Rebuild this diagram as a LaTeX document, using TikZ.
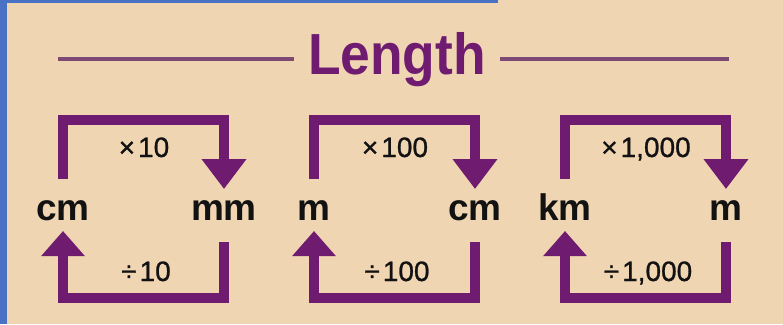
\documentclass[tikz,border=0pt]{standalone}
\usepackage{fontspec}
\usepackage{graphicx}
\setmainfont{Liberation Sans}
\newfontfamily\opfont{Liberation Sans}[FakeBold=0.9]
\usetikzlibrary{arrows.meta}
\definecolor{paper}{HTML}{F0D5B3}
\definecolor{plum}{HTML}{6E1B70}
\definecolor{ink}{HTML}{121212}
\definecolor{edge}{HTML}{4A72C4}
\definecolor{rulecol}{HTML}{7C4A74}
\begin{document}
\begin{tikzpicture}[x=1pt,y=-1pt,
  unit/.style={font=\fontsize{37}{40}\selectfont\bfseries, text=ink, inner sep=0pt, anchor=base},
  op/.style={font=\opfont\fontsize{28}{30}\selectfont, text=ink, inner sep=0pt, anchor=base},
  bar/.style={draw=plum, line width=10pt},
  rule/.style={draw=rulecol, line width=3.5pt}]
% background and screenshot edge
\useasboundingbox (0,0) rectangle (783,324);
\fill[paper] (0,0) rectangle (783,324);
\fill[edge] (0,0) rectangle (7,324);
\fill[edge] (0,0) rectangle (498,2.5);
% title
\node[text=plum, font=\fontsize{58}{60}\selectfont\bfseries, inner xsep=14pt, inner ysep=0pt, anchor=base] (title) at (397,74) {\scalebox{0.92}[1]{Length}};
\coordinate (rl) at (58,59);
\coordinate (rr) at (729,59);
\draw[rule] (rl) -- (rl -| title.west);
\draw[rule] (title.east |- rr) -- (rr);
% conversion loops
\foreach \lo/\hi/\num [count=\i from 0] in {cm/mm/10, m/cm/100, km/m/{1,000}} {
  \node[unit] (lo\i) at ({63+251*\i},220) {\lo};
  \node[unit] (hi\i) at ({224+251*\i},220) {\hi};
  \node[op] (mul\i) at ({144+251*\i},157) {×\kern3pt\num};
  \node[op] (div\i) at ({146+251*\i},281) {÷\kern3pt\num};
  \draw[bar, -{Triangle[width=43pt,length=30pt]}] ([yshift=41pt]lo\i.base) |- ([yshift=100pt]hi\i.base) -- ([yshift=31pt]hi\i.base);
  \draw[bar, -{Triangle[width=42pt,length=25pt]}] ([yshift=-22pt]hi\i.base) |- ([yshift=-78pt]lo\i.base) -- ([yshift=-11pt]lo\i.base);
}
\end{tikzpicture}
\end{document}
